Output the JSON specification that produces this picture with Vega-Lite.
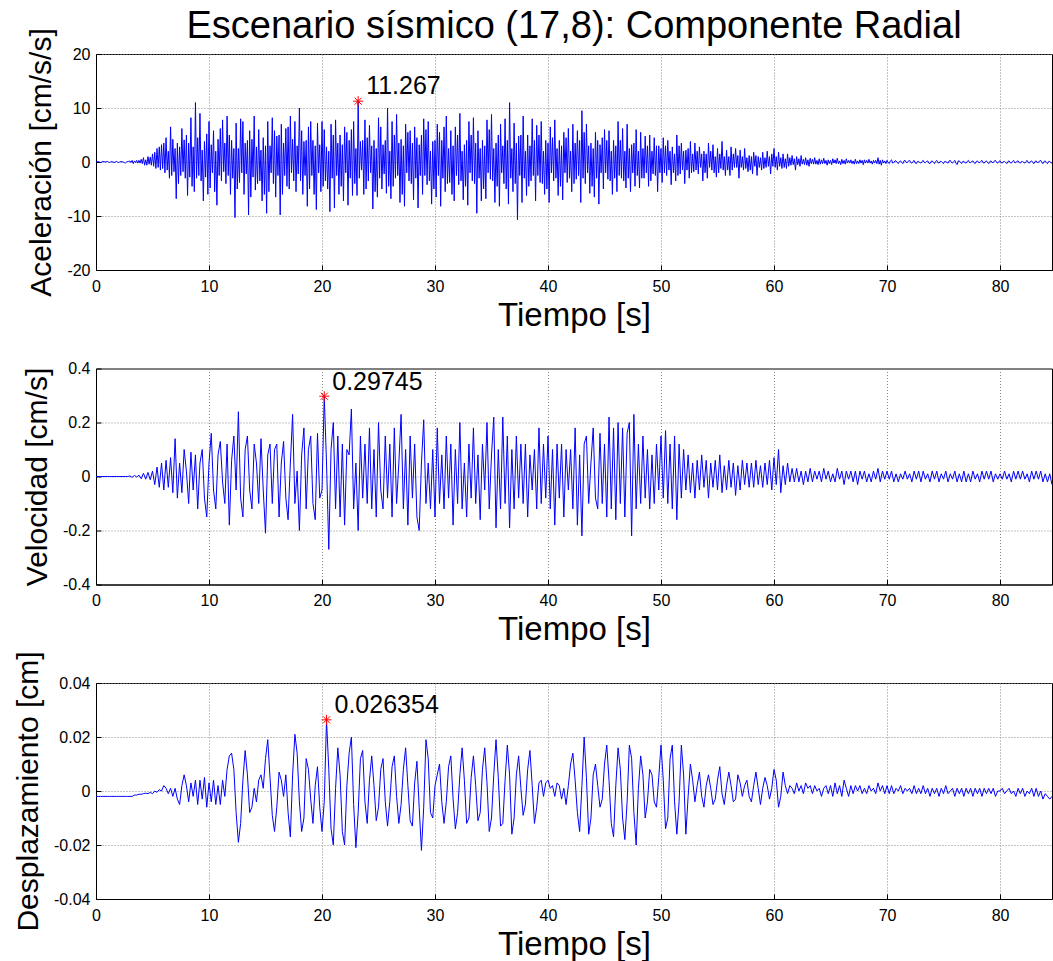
{
"$schema": "https://vega.github.io/schema/vega-lite/v6.json",
"background": "white",
"padding": {"left": 13, "top": 7, "right": 0, "bottom": 0},
"config": {
  "view": {"stroke": "#000", "strokeWidth": 1},
  "font": "Liberation Sans",
  "axis": {"labelFont": "Liberation Sans", "labelFontSize": 16, "labelColor": "#000", "titleFont": "Liberation Sans", "titleFontSize": 30, "titleFontWeight": "normal", "titleColor": "#000", "domainColor": "#000", "domainWidth": 1, "tickColor": "#000", "tickSize": -5, "labelPadding": 11, "gridColor": "#888", "gridDash": [1, 2], "gridOpacity": 1, "labelFlush": false, "labelOverlap": false, "format": "~g", "labelExpr": "replace(datum.label, '\u2212', '-')"},
  "axisX": {"titlePadding": 5, "labelPadding": 13, "titleFontSize": 33},
  "axisY": {"titlePadding": 10}
},
"datasets": {
"acc": [
{"t":0,"a":0},{"t":0.1,"a":0.05},{"t":0.2,"a":0.1},{"t":0.3,"a":0},{"t":0.4,"a":-0.1},{"t":0.5,"a":0},{"t":0.6,"a":0.1},{"t":0.7,"a":0.05},{"t":0.8,"a":0},{"t":0.9,"a":0.05},
{"t":1,"a":0.1},{"t":1.1,"a":0},{"t":1.2,"a":-0.1},{"t":1.3,"a":0},{"t":1.4,"a":0.1},{"t":1.5,"a":0},{"t":1.6,"a":-0.1},{"t":1.7,"a":0},{"t":1.8,"a":0.1},{"t":1.9,"a":0},
{"t":2,"a":-0.1},{"t":2.1,"a":0},{"t":2.2,"a":0.1},{"t":2.3,"a":0.05},{"t":2.4,"a":0},{"t":2.5,"a":-0.1},{"t":2.6,"a":-0.2},{"t":2.7,"a":0},{"t":2.8,"a":0.1},{"t":2.9,"a":0.1},
{"t":3,"a":0.2},{"t":3.1,"a":-0.1},{"t":3.2,"a":0.3},{"t":3.3,"a":-0.3},{"t":3.4,"a":0.2},{"t":3.5,"a":-0.1},{"t":3.6,"a":0.3},{"t":3.7,"a":-0.2},{"t":3.8,"a":0.3},{"t":3.9,"a":-0.2},
{"t":4,"a":0.5},{"t":4.1,"a":-0.3},{"t":4.2,"a":0.8},{"t":4.3,"a":-0.6},{"t":4.4,"a":0.4},{"t":4.5,"a":-0.6},{"t":4.6,"a":1.0},{"t":4.7,"a":-0.4},{"t":4.8,"a":0.9},{"t":4.9,"a":-0.6},
{"t":5,"a":1.5},{"t":5.1,"a":-0.8},{"t":5.2,"a":1.8},{"t":5.3,"a":-1.2},{"t":5.4,"a":2.5},{"t":5.5,"a":-1.0},{"t":5.6,"a":2.8},{"t":5.7,"a":-1.5},{"t":5.8,"a":3.2},{"t":5.9,"a":-1.2},
{"t":6,"a":3.5},{"t":6.1,"a":-2.0},{"t":6.2,"a":4.5},{"t":6.3,"a":-1.5},{"t":6.4,"a":2.0},{"t":6.5,"a":-3.0},{"t":6.6,"a":6.5},{"t":6.7,"a":-2.5},{"t":6.8,"a":4.2},{"t":6.9,"a":-1.8},
{"t":7,"a":2.5},{"t":7.1,"a":-6.8},{"t":7.2,"a":3.5},{"t":7.3,"a":-4.0},{"t":7.4,"a":2.8},{"t":7.5,"a":-2.5},{"t":7.6,"a":6.2},{"t":7.7,"a":-1.8},{"t":7.8,"a":4.1},{"t":7.9,"a":-3.0},
{"t":8,"a":5.0},{"t":8.1,"a":-6.2},{"t":8.2,"a":3.5},{"t":8.3,"a":-2.8},{"t":8.4,"a":8.2},{"t":8.5,"a":-4.5},{"t":8.6,"a":2.8},{"t":8.7,"a":-5.5},{"t":8.8,"a":11.0},{"t":8.9,"a":-3.0},
{"t":9,"a":4.5},{"t":9.1,"a":-2.5},{"t":9.2,"a":9.0},{"t":9.3,"a":-3.5},{"t":9.4,"a":2.2},{"t":9.5,"a":-7.2},{"t":9.6,"a":3.8},{"t":9.7,"a":-2.8},{"t":9.8,"a":5.2},{"t":9.9,"a":-6.0},
{"t":10,"a":7.5},{"t":10.1,"a":-4.8},{"t":10.2,"a":3.2},{"t":10.3,"a":-2.0},{"t":10.4,"a":5.8},{"t":10.5,"a":-5.5},{"t":10.6,"a":2.0},{"t":10.7,"a":-8.0},{"t":10.8,"a":4.2},{"t":10.9,"a":-2.5},
{"t":11,"a":6.2},{"t":11.1,"a":-3.5},{"t":11.2,"a":7.8},{"t":11.3,"a":-1.8},{"t":11.4,"a":3.5},{"t":11.5,"a":-4.0},{"t":11.6,"a":8.5},{"t":11.7,"a":-2.5},{"t":11.8,"a":5.0},{"t":11.9,"a":-6.0},
{"t":12,"a":4.0},{"t":12.1,"a":-3.0},{"t":12.2,"a":2.5},{"t":12.3,"a":-10.3},{"t":12.4,"a":7.2},{"t":12.5,"a":-5.0},{"t":12.6,"a":2.5},{"t":12.7,"a":-3.8},{"t":12.8,"a":8.0},{"t":12.9,"a":-2.0},
{"t":13,"a":7.5},{"t":13.1,"a":-6.0},{"t":13.2,"a":3.5},{"t":13.3,"a":-2.2},{"t":13.4,"a":4.0},{"t":13.5,"a":-9.8},{"t":13.6,"a":5.8},{"t":13.7,"a":-6.5},{"t":13.8,"a":4.2},{"t":13.9,"a":-2.8},
{"t":14,"a":8.5},{"t":14.1,"a":-5.2},{"t":14.2,"a":2.8},{"t":14.3,"a":-4.0},{"t":14.4,"a":6.0},{"t":14.5,"a":-3.5},{"t":14.6,"a":2.2},{"t":14.7,"a":-7.2},{"t":14.8,"a":4.5},{"t":14.9,"a":-6.0},
{"t":15,"a":3.0},{"t":15.1,"a":-9.5},{"t":15.2,"a":7.5},{"t":15.3,"a":-5.5},{"t":15.4,"a":3.0},{"t":15.5,"a":-2.0},{"t":15.6,"a":8.2},{"t":15.7,"a":-4.0},{"t":15.8,"a":5.8},{"t":15.9,"a":-6.5},
{"t":16,"a":4.8},{"t":16.1,"a":-2.5},{"t":16.2,"a":5.0},{"t":16.3,"a":-9.8},{"t":16.4,"a":7.0},{"t":16.5,"a":-6.0},{"t":16.6,"a":3.5},{"t":16.7,"a":-2.5},{"t":16.8,"a":6.2},{"t":16.9,"a":-4.5},
{"t":17,"a":6.5},{"t":17.1,"a":-5.0},{"t":17.2,"a":8.5},{"t":17.3,"a":-2.0},{"t":17.4,"a":4.2},{"t":17.5,"a":-3.5},{"t":17.6,"a":7.5},{"t":17.7,"a":-5.5},{"t":17.8,"a":3.0},{"t":17.9,"a":-2.2},
{"t":18,"a":10.0},{"t":18.1,"a":-3.5},{"t":18.2,"a":5.8},{"t":18.3,"a":-6.0},{"t":18.4,"a":3.8},{"t":18.5,"a":-2.5},{"t":18.6,"a":4.0},{"t":18.7,"a":-8.2},{"t":18.8,"a":6.5},{"t":18.9,"a":-5.0},
{"t":19,"a":7.5},{"t":19.1,"a":-2.5},{"t":19.2,"a":4.0},{"t":19.3,"a":-6.0},{"t":19.4,"a":3.0},{"t":19.5,"a":-8.8},{"t":19.6,"a":7.2},{"t":19.7,"a":-2.0},{"t":19.8,"a":3.2},{"t":19.9,"a":-5.5},
{"t":20,"a":7.5},{"t":20.1,"a":-4.5},{"t":20.2,"a":6.0},{"t":20.3,"a":-3.5},{"t":20.4,"a":2.8},{"t":20.5,"a":-5.0},{"t":20.6,"a":2.0},{"t":20.7,"a":-9.2},{"t":20.8,"a":7.0},{"t":20.9,"a":-3.0},
{"t":21,"a":5.0},{"t":21.1,"a":-8.5},{"t":21.2,"a":7.8},{"t":21.3,"a":-2.5},{"t":21.4,"a":3.5},{"t":21.5,"a":-6.0},{"t":21.6,"a":5.0},{"t":21.7,"a":-4.5},{"t":21.8,"a":3.2},{"t":21.9,"a":-7.2},
{"t":22,"a":6.5},{"t":22.1,"a":-2.0},{"t":22.2,"a":5.5},{"t":22.3,"a":-8.0},{"t":22.4,"a":4.0},{"t":22.5,"a":-3.0},{"t":22.6,"a":6.0},{"t":22.7,"a":-6.2},{"t":22.8,"a":7.5},{"t":22.9,"a":-4.0},
{"t":23,"a":2.5},{"t":23.1,"a":-6.2},{"t":23.2,"a":11.267},{"t":23.3,"a":-3.0},{"t":23.4,"a":3.8},{"t":23.5,"a":-1.5},{"t":23.6,"a":4.0},{"t":23.7,"a":-6.0},{"t":23.8,"a":7.8},{"t":23.9,"a":-5.0},
{"t":24,"a":4.5},{"t":24.1,"a":-3.5},{"t":24.2,"a":6.8},{"t":24.3,"a":-2.0},{"t":24.4,"a":3.0},{"t":24.5,"a":-8.7},{"t":24.6,"a":4.0},{"t":24.7,"a":-5.5},{"t":24.8,"a":2.5},{"t":24.9,"a":-6.5},
{"t":25,"a":8.2},{"t":25.1,"a":-3.0},{"t":25.2,"a":6.5},{"t":25.3,"a":-5.0},{"t":25.4,"a":3.2},{"t":25.5,"a":-2.2},{"t":25.6,"a":4.0},{"t":25.7,"a":-5.8},{"t":25.8,"a":10.0},{"t":25.9,"a":-4.5},
{"t":26,"a":2.0},{"t":26.1,"a":-6.8},{"t":26.2,"a":7.5},{"t":26.3,"a":-4.5},{"t":26.4,"a":5.0},{"t":26.5,"a":-3.0},{"t":26.6,"a":8.8},{"t":26.7,"a":-2.5},{"t":26.8,"a":3.5},{"t":26.9,"a":-7.5},
{"t":27,"a":4.2},{"t":27.1,"a":-6.0},{"t":27.2,"a":3.0},{"t":27.3,"a":-8.2},{"t":27.4,"a":7.0},{"t":27.5,"a":-2.0},{"t":27.6,"a":5.5},{"t":27.7,"a":-3.5},{"t":27.8,"a":5.8},{"t":27.9,"a":-4.0},
{"t":28,"a":3.5},{"t":28.1,"a":-7.0},{"t":28.2,"a":6.5},{"t":28.3,"a":-3.0},{"t":28.4,"a":4.5},{"t":28.5,"a":-8.5},{"t":28.6,"a":3.2},{"t":28.7,"a":-2.5},{"t":28.8,"a":5.0},{"t":28.9,"a":-6.0},
{"t":29,"a":8.0},{"t":29.1,"a":-2.5},{"t":29.2,"a":6.0},{"t":29.3,"a":-4.2},{"t":29.4,"a":7.5},{"t":29.5,"a":-3.5},{"t":29.6,"a":2.0},{"t":29.7,"a":-7.8},{"t":29.8,"a":3.8},{"t":29.9,"a":-5.0},
{"t":30,"a":4.0},{"t":30.1,"a":-6.5},{"t":30.2,"a":7.0},{"t":30.3,"a":-2.5},{"t":30.4,"a":5.5},{"t":30.5,"a":-8.2},{"t":30.6,"a":4.0},{"t":30.7,"a":-3.0},{"t":30.8,"a":6.5},{"t":30.9,"a":-5.5},
{"t":31,"a":8.5},{"t":31.1,"a":-4.0},{"t":31.2,"a":2.5},{"t":31.3,"a":-3.8},{"t":31.4,"a":5.8},{"t":31.5,"a":-6.0},{"t":31.6,"a":3.0},{"t":31.7,"a":-7.2},{"t":31.8,"a":6.5},{"t":31.9,"a":-2.5},
{"t":32,"a":5.0},{"t":32.1,"a":-4.2},{"t":32.2,"a":9.0},{"t":32.3,"a":-3.5},{"t":32.4,"a":2.0},{"t":32.5,"a":-7.0},{"t":32.6,"a":3.2},{"t":32.7,"a":-4.5},{"t":32.8,"a":4.0},{"t":32.9,"a":-8.0},
{"t":33,"a":7.5},{"t":33.1,"a":-2.0},{"t":33.2,"a":5.0},{"t":33.3,"a":-3.5},{"t":33.4,"a":8.2},{"t":33.5,"a":-4.0},{"t":33.6,"a":3.5},{"t":33.7,"a":-9.5},{"t":33.8,"a":5.8},{"t":33.9,"a":-3.0},
{"t":34,"a":2.5},{"t":34.1,"a":-7.2},{"t":34.2,"a":4.0},{"t":34.3,"a":-5.0},{"t":34.4,"a":3.0},{"t":34.5,"a":-6.8},{"t":34.6,"a":7.8},{"t":34.7,"a":-2.0},{"t":34.8,"a":6.0},{"t":34.9,"a":-3.2},
{"t":35,"a":8.8},{"t":35.1,"a":-3.5},{"t":35.2,"a":2.5},{"t":35.3,"a":-7.5},{"t":35.4,"a":3.5},{"t":35.5,"a":-4.5},{"t":35.6,"a":5.0},{"t":35.7,"a":-8.2},{"t":35.8,"a":7.0},{"t":35.9,"a":-2.0},
{"t":36,"a":3.0},{"t":36.1,"a":-4.0},{"t":36.2,"a":8.0},{"t":36.3,"a":-5.0},{"t":36.4,"a":4.0},{"t":36.5,"a":-7.8},{"t":36.6,"a":11.0},{"t":36.7,"a":-3.0},{"t":36.8,"a":2.5},{"t":36.9,"a":-5.5},
{"t":37,"a":7.2},{"t":37.1,"a":-4.0},{"t":37.2,"a":3.5},{"t":37.3,"a":-10.7},{"t":37.4,"a":4.8},{"t":37.5,"a":-2.5},{"t":37.6,"a":5.0},{"t":37.7,"a":-7.5},{"t":37.8,"a":8.5},{"t":37.9,"a":-3.0},
{"t":38,"a":2.0},{"t":38.1,"a":-6.2},{"t":38.2,"a":5.0},{"t":38.3,"a":-4.5},{"t":38.4,"a":3.0},{"t":38.5,"a":-3.5},{"t":38.6,"a":8.0},{"t":38.7,"a":-2.5},{"t":38.8,"a":4.0},{"t":38.9,"a":-7.2},
{"t":39,"a":6.8},{"t":39.1,"a":-2.5},{"t":39.2,"a":5.0},{"t":39.3,"a":-3.8},{"t":39.4,"a":7.5},{"t":39.5,"a":-4.0},{"t":39.6,"a":2.0},{"t":39.7,"a":-6.0},{"t":39.8,"a":4.0},{"t":39.9,"a":-5.0},
{"t":40,"a":3.5},{"t":40.1,"a":-7.5},{"t":40.2,"a":6.5},{"t":40.3,"a":-2.0},{"t":40.4,"a":4.5},{"t":40.5,"a":-3.5},{"t":40.6,"a":7.8},{"t":40.7,"a":-3.0},{"t":40.8,"a":2.5},{"t":40.9,"a":-6.2},
{"t":41,"a":4.0},{"t":41.1,"a":-4.5},{"t":41.2,"a":3.0},{"t":41.3,"a":-7.0},{"t":41.4,"a":5.5},{"t":41.5,"a":-2.0},{"t":41.6,"a":4.5},{"t":41.7,"a":-3.8},{"t":41.8,"a":6.2},{"t":41.9,"a":-3.0},
{"t":42,"a":2.0},{"t":42.1,"a":-5.5},{"t":42.2,"a":7.0},{"t":42.3,"a":-4.0},{"t":42.4,"a":3.5},{"t":42.5,"a":-3.2},{"t":42.6,"a":5.8},{"t":42.7,"a":-2.5},{"t":42.8,"a":4.0},{"t":42.9,"a":-7.5},
{"t":43,"a":9.5},{"t":43.1,"a":-3.0},{"t":43.2,"a":5.5},{"t":43.3,"a":-4.0},{"t":43.4,"a":7.0},{"t":43.5,"a":-2.0},{"t":43.6,"a":3.0},{"t":43.7,"a":-5.8},{"t":43.8,"a":3.5},{"t":43.9,"a":-4.5},
{"t":44,"a":2.5},{"t":44.1,"a":-6.5},{"t":44.2,"a":5.5},{"t":44.3,"a":-3.0},{"t":44.4,"a":4.0},{"t":44.5,"a":-7.8},{"t":44.6,"a":3.2},{"t":44.7,"a":-2.0},{"t":44.8,"a":4.5},{"t":44.9,"a":-5.0},
{"t":45,"a":6.0},{"t":45.1,"a":-2.0},{"t":45.2,"a":4.0},{"t":45.3,"a":-3.2},{"t":45.4,"a":5.8},{"t":45.5,"a":-3.5},{"t":45.6,"a":2.0},{"t":45.7,"a":-6.0},{"t":45.8,"a":4.0},{"t":45.9,"a":-3.0},
{"t":46,"a":3.0},{"t":46.1,"a":-5.5},{"t":46.2,"a":7.5},{"t":46.3,"a":-2.5},{"t":46.4,"a":4.0},{"t":46.5,"a":-3.0},{"t":46.6,"a":6.2},{"t":46.7,"a":-3.5},{"t":46.8,"a":2.0},{"t":46.9,"a":-4.8},
{"t":47,"a":7.0},{"t":47.1,"a":-3.0},{"t":47.2,"a":2.5},{"t":47.3,"a":-5.5},{"t":47.4,"a":3.2},{"t":47.5,"a":-2.0},{"t":47.6,"a":3.5},{"t":47.7,"a":-4.5},{"t":47.8,"a":6.0},{"t":47.9,"a":-2.5},
{"t":48,"a":2.0},{"t":48.1,"a":-4.8},{"t":48.2,"a":5.5},{"t":48.3,"a":-3.0},{"t":48.4,"a":2.5},{"t":48.5,"a":-3.0},{"t":48.6,"a":4.8},{"t":48.7,"a":-2.0},{"t":48.8,"a":3.0},{"t":48.9,"a":-4.5},
{"t":49,"a":5.0},{"t":49.1,"a":-3.5},{"t":49.2,"a":2.0},{"t":49.3,"a":-2.2},{"t":49.4,"a":4.5},{"t":49.5,"a":-2.5},{"t":49.6,"a":3.0},{"t":49.7,"a":-5.5},{"t":49.8,"a":3.0},{"t":49.9,"a":-2.0},
{"t":50,"a":2.5},{"t":50.1,"a":-3.8},{"t":50.2,"a":4.5},{"t":50.3,"a":-2.0},{"t":50.4,"a":3.0},{"t":50.5,"a":-2.5},{"t":50.6,"a":4.0},{"t":50.7,"a":-1.5},{"t":50.8,"a":2.0},{"t":50.9,"a":-4.2},
{"t":51,"a":2.8},{"t":51.1,"a":-2.0},{"t":51.2,"a":1.5},{"t":51.3,"a":-3.5},{"t":51.4,"a":5.0},{"t":51.5,"a":-2.5},{"t":51.6,"a":3.0},{"t":51.7,"a":-2.2},{"t":51.8,"a":3.5},{"t":51.9,"a":-1.5},
{"t":52,"a":2.0},{"t":52.1,"a":-4.0},{"t":52.2,"a":2.2},{"t":52.3,"a":-1.5},{"t":52.4,"a":2.5},{"t":52.5,"a":-3.0},{"t":52.6,"a":3.8},{"t":52.7,"a":-2.0},{"t":52.8,"a":1.5},{"t":52.9,"a":-1.8},
{"t":53,"a":3.5},{"t":53.1,"a":-1.5},{"t":53.2,"a":2.0},{"t":53.3,"a":-2.2},{"t":53.4,"a":2.8},{"t":53.5,"a":-1.0},{"t":53.6,"a":1.5},{"t":53.7,"a":-3.5},{"t":53.8,"a":2.0},{"t":53.9,"a":-2.0},
{"t":54,"a":1.5},{"t":54.1,"a":-3.0},{"t":54.2,"a":3.5},{"t":54.3,"a":-1.0},{"t":54.4,"a":2.0},{"t":54.5,"a":-1.5},{"t":54.6,"a":3.2},{"t":54.7,"a":-2.0},{"t":54.8,"a":1.0},{"t":54.9,"a":-2.8},
{"t":55,"a":2.5},{"t":55.1,"a":-2.0},{"t":55.2,"a":1.5},{"t":55.3,"a":-1.2},{"t":55.4,"a":3.8},{"t":55.5,"a":-1.5},{"t":55.6,"a":1.0},{"t":55.7,"a":-2.5},{"t":55.8,"a":2.2},{"t":55.9,"a":-1.5},
{"t":56,"a":1.0},{"t":56.1,"a":-2.5},{"t":56.2,"a":2.8},{"t":56.3,"a":-1.5},{"t":56.4,"a":1.5},{"t":56.5,"a":-1.0},{"t":56.6,"a":2.5},{"t":56.7,"a":-1.0},{"t":56.8,"a":1.2},{"t":56.9,"a":-3.0},
{"t":57,"a":2.2},{"t":57.1,"a":-1.0},{"t":57.2,"a":1.0},{"t":57.3,"a":-1.5},{"t":57.4,"a":2.5},{"t":57.5,"a":-1.2},{"t":57.6,"a":0.8},{"t":57.7,"a":-1.8},{"t":57.8,"a":1.2},{"t":57.9,"a":-1.5},
{"t":58,"a":1.0},{"t":58.1,"a":-2.2},{"t":58.2,"a":1.8},{"t":58.3,"a":-0.8},{"t":58.4,"a":1.2},{"t":58.5,"a":-2.5},{"t":58.6,"a":1.0},{"t":58.7,"a":-1.0},{"t":58.8,"a":0.8},{"t":58.9,"a":-1.5},
{"t":59,"a":1.8},{"t":59.1,"a":-1.2},{"t":59.2,"a":0.8},{"t":59.3,"a":-1.0},{"t":59.4,"a":2.0},{"t":59.5,"a":-0.8},{"t":59.6,"a":1.0},{"t":59.7,"a":-2.2},{"t":59.8,"a":1.5},{"t":59.9,"a":-0.8},
{"t":60,"a":2.5},{"t":60.1,"a":-1.0},{"t":60.2,"a":1.0},{"t":60.3,"a":-1.5},{"t":60.4,"a":1.8},{"t":60.5,"a":-0.8},{"t":60.6,"a":0.8},{"t":60.7,"a":-1.2},{"t":60.8,"a":1.5},{"t":60.9,"a":-1.0},
{"t":61,"a":0.6},{"t":61.1,"a":-1.2},{"t":61.2,"a":1.5},{"t":61.3,"a":-0.8},{"t":61.4,"a":0.8},{"t":61.5,"a":-0.6},{"t":61.6,"a":1.2},{"t":61.7,"a":-0.5},{"t":61.8,"a":0.6},{"t":61.9,"a":-1.5},
{"t":62,"a":1.0},{"t":62.1,"a":-0.5},{"t":62.2,"a":0.6},{"t":62.3,"a":-0.8},{"t":62.4,"a":1.2},{"t":62.5,"a":-0.4},{"t":62.6,"a":0.5},{"t":62.7,"a":-0.5},{"t":62.8,"a":0.8},{"t":62.9,"a":-0.6},
{"t":63,"a":0.4},{"t":63.1,"a":-0.8},{"t":63.2,"a":0.7},{"t":63.3,"a":-0.3},{"t":63.4,"a":0.5},{"t":63.5,"a":-0.4},{"t":63.6,"a":0.8},{"t":63.7,"a":-0.4},{"t":63.8,"a":0.3},{"t":63.9,"a":-0.5},
{"t":64,"a":0.6},{"t":64.1,"a":-0.4},{"t":64.2,"a":0.4},{"t":64.3,"a":-0.3},{"t":64.4,"a":0.7},{"t":64.5,"a":-0.3},{"t":64.6,"a":0.3},{"t":64.7,"a":-0.6},{"t":64.8,"a":0.4},{"t":64.9,"a":-0.3},
{"t":65,"a":0.3},{"t":65.1,"a":-0.5},{"t":65.2,"a":0.6},{"t":65.3,"a":-0.2},{"t":65.4,"a":0.4},{"t":65.5,"a":-0.3},{"t":65.6,"a":0.7},{"t":65.7,"a":-0.3},{"t":65.8,"a":0.2},{"t":65.9,"a":-0.5},
{"t":66,"a":0.5},{"t":66.1,"a":-0.3},{"t":66.2,"a":0.3},{"t":66.3,"a":-0.4},{"t":66.4,"a":0.6},{"t":66.5,"a":-0.2},{"t":66.6,"a":0.3},{"t":66.7,"a":-0.2},{"t":66.8,"a":0.4},{"t":66.9,"a":-0.3},
{"t":67,"a":0.2},{"t":67.1,"a":-0.4},{"t":67.2,"a":0.5},{"t":67.3,"a":-0.3},{"t":67.4,"a":0.2},{"t":67.5,"a":-0.3},{"t":67.6,"a":0.4},{"t":67.7,"a":-0.2},{"t":67.8,"a":0.3},{"t":67.9,"a":-0.5},
{"t":68,"a":0.4},{"t":68.1,"a":-0.2},{"t":68.2,"a":0.3},{"t":68.3,"a":-0.2},{"t":68.4,"a":0.5},{"t":68.5,"a":-0.2},{"t":68.6,"a":0.2},{"t":68.7,"a":-0.4},{"t":68.8,"a":0.3},{"t":68.9,"a":-0.2},
{"t":69,"a":0.3},{"t":69.1,"a":-0.3},{"t":69.2,"a":0.8},{"t":69.3,"a":-0.4},{"t":69.4,"a":0.3},{"t":69.5,"a":-0.6},{"t":69.6,"a":0.4},{"t":69.7,"a":-0.2},{"t":69.8,"a":0.2},{"t":69.9,"a":-0.3},
{"t":70,"a":0.3},{"t":70.1,"a":-0.1},{"t":70.2,"a":-0.3},{"t":70.3,"a":0.2},{"t":70.4,"a":0.4},{"t":70.5,"a":-0.2},{"t":70.6,"a":-0.1},{"t":70.7,"a":0.2},{"t":70.8,"a":0.2},{"t":70.9,"a":-0.1},
{"t":71,"a":-0.3},{"t":71.1,"a":0.1},{"t":71.2,"a":0.2},{"t":71.3,"a":-0.1},{"t":71.4,"a":-0.3},{"t":71.5,"a":0.2},{"t":71.6,"a":0.3},{"t":71.7,"a":-0.1},{"t":71.8,"a":-0.1},{"t":71.9,"a":0.2},
{"t":72,"a":0.3},{"t":72.1,"a":-0.1},{"t":72.2,"a":-0.2},{"t":72.3,"a":0.1},{"t":72.4,"a":0.3},{"t":72.5,"a":-0.2},{"t":72.6,"a":-0.3},{"t":72.7,"a":0.1},{"t":72.8,"a":0.1},{"t":72.9,"a":-0.1},
{"t":73,"a":-0.2},{"t":73.1,"a":0.1},{"t":73.2,"a":0.3},{"t":73.3,"a":-0.1},{"t":73.4,"a":-0.1},{"t":73.5,"a":0.1},{"t":73.6,"a":0.2},{"t":73.7,"a":-0.2},{"t":73.8,"a":-0.3},{"t":73.9,"a":0.1},
{"t":74,"a":0.2},{"t":74.1,"a":-0.1},{"t":74.2,"a":-0.3},{"t":74.3,"a":0.1},{"t":74.4,"a":0.3},{"t":74.5,"a":-0.1},{"t":74.6,"a":-0.2},{"t":74.7,"a":0.1},{"t":74.8,"a":0.1},{"t":74.9,"a":-0.1},
{"t":75,"a":-0.3},{"t":75.1,"a":0.1},{"t":75.2,"a":0.1},{"t":75.3,"a":-0.1},{"t":75.4,"a":-0.2},{"t":75.5,"a":0.2},{"t":75.6,"a":0.3},{"t":75.7,"a":-0.1},{"t":75.8,"a":-0.2},{"t":75.9,"a":0.1},
{"t":76,"a":0.3},{"t":76.1,"a":-0.2},{"t":76.2,"a":-0.5},{"t":76.3,"a":0.2},{"t":76.4,"a":0.2},{"t":76.5,"a":-0.1},{"t":76.6,"a":-0.3},{"t":76.7,"a":0.1},{"t":76.8,"a":0.1},{"t":76.9,"a":-0.1},
{"t":77,"a":-0.2},{"t":77.1,"a":0.1},{"t":77.2,"a":0.3},{"t":77.3,"a":-0.1},{"t":77.4,"a":-0.1},{"t":77.5,"a":0.1},{"t":77.6,"a":0.2},{"t":77.7,"a":-0.1},{"t":77.8,"a":-0.3},{"t":77.9,"a":0.1},
{"t":78,"a":0.2},{"t":78.1,"a":-0.1},{"t":78.2,"a":-0.1},{"t":78.3,"a":0.1},{"t":78.4,"a":0.3},{"t":78.5,"a":-0.1},{"t":78.6,"a":-0.2},{"t":78.7,"a":0.1},{"t":78.8,"a":0.2},{"t":78.9,"a":-0.1},
{"t":79,"a":-0.3},{"t":79.1,"a":0.1},{"t":79.2,"a":0.2},{"t":79.3,"a":-0.1},{"t":79.4,"a":-0.1},{"t":79.5,"a":0.2},{"t":79.6,"a":0.3},{"t":79.7,"a":-0.1},{"t":79.8,"a":-0.2},{"t":79.9,"a":0.1},
{"t":80,"a":0.2},{"t":80.1,"a":-0.1},{"t":80.2,"a":-0.2},{"t":80.3,"a":0.1},{"t":80.4,"a":0.1},{"t":80.5,"a":-0.1},{"t":80.6,"a":-0.3},{"t":80.7,"a":0.1},{"t":80.8,"a":0.2},{"t":80.9,"a":-0.1},
{"t":81,"a":-0.2},{"t":81.1,"a":0.1},{"t":81.2,"a":0.3},{"t":81.3,"a":-0.1},{"t":81.4,"a":-0.1},{"t":81.5,"a":0.1},{"t":81.6,"a":0.2},{"t":81.7,"a":-0.1},{"t":81.8,"a":-0.2},{"t":81.9,"a":0.1},
{"t":82,"a":0.1},{"t":82.1,"a":-0.1},{"t":82.2,"a":-0.2},{"t":82.3,"a":0.1},{"t":82.4,"a":0.3},{"t":82.5,"a":-0.1},{"t":82.6,"a":-0.2},{"t":82.7,"a":0.1},{"t":82.8,"a":0.2},{"t":82.9,"a":-0.1},
{"t":83,"a":-0.3},{"t":83.1,"a":0.1},{"t":83.2,"a":0.2},{"t":83.3,"a":-0.1},{"t":83.4,"a":-0.1},{"t":83.5,"a":0.2},{"t":83.6,"a":0.3},{"t":83.7,"a":-0.1},{"t":83.8,"a":-0.3},{"t":83.9,"a":0.1},
{"t":84,"a":0.2},{"t":84.1,"a":-0.1},{"t":84.2,"a":-0.3},{"t":84.3,"a":0.1},{"t":84.4,"a":0.1},{"t":84.5,"a":-0.1},{"t":84.6,"a":-0.2}
],
"s": [
{"t":0,"v":0,"d":-0.002},{"t":0.2,"v":0,"d":-0.002},{"t":0.4,"v":0,"d":-0.002},{"t":0.6,"v":0,"d":-0.002},{"t":0.8,"v":0,"d":-0.002},
{"t":1,"v":0,"d":-0.002},{"t":1.2,"v":0,"d":-0.002},{"t":1.4,"v":0,"d":-0.002},{"t":1.6,"v":0,"d":-0.002},{"t":1.8,"v":0,"d":-0.002},
{"t":2,"v":0,"d":-0.002},{"t":2.2,"v":0,"d":-0.002},{"t":2.4,"v":0,"d":-0.002},{"t":2.6,"v":0,"d":-0.002},{"t":2.8,"v":0,"d":-0.002},
{"t":3,"v":0.002,"d":-0.002},{"t":3.2,"v":-0.003,"d":-0.002},{"t":3.4,"v":0.004,"d":-0.0015},{"t":3.6,"v":-0.002,"d":-0.0015},{"t":3.8,"v":0.005,"d":-0.0012},
{"t":4,"v":-0.008,"d":-0.0012},{"t":4.2,"v":0.012,"d":-0.001},{"t":4.4,"v":-0.01,"d":-0.0008},{"t":4.6,"v":0.015,"d":-0.001},{"t":4.8,"v":-0.012,"d":-0.0005},
{"t":5,"v":0.02,"d":-0.001},{"t":5.2,"v":-0.03,"d":0},{"t":5.4,"v":0.035,"d":-0.0005},{"t":5.6,"v":-0.04,"d":0.0005},{"t":5.8,"v":0.05,"d":0},
{"t":6,"v":-0.05,"d":0.002},{"t":6.2,"v":0.06,"d":0.001},{"t":6.4,"v":-0.04,"d":-0.001},{"t":6.6,"v":0.07,"d":0.001},{"t":6.8,"v":-0.06,"d":-0.002},
{"t":7,"v":0.14,"d":0.001},{"t":7.2,"v":-0.08,"d":-0.003},{"t":7.4,"v":0.05,"d":-0.005},{"t":7.6,"v":-0.06,"d":0.002},{"t":7.8,"v":0.1,"d":0.006},
{"t":8,"v":0.02,"d":0.002},{"t":8.2,"v":-0.1,"d":-0.004},{"t":8.4,"v":0.09,"d":0.003},{"t":8.6,"v":-0.05,"d":-0.002},{"t":8.8,"v":0.08,"d":0.004},
{"t":9,"v":-0.12,"d":-0.005},{"t":9.2,"v":0.05,"d":0.004},{"t":9.4,"v":0.1,"d":-0.003},{"t":9.6,"v":-0.08,"d":0.005},{"t":9.8,"v":-0.15,"d":-0.006},
{"t":10,"v":0.05,"d":0.003},{"t":10.2,"v":0.16,"d":-0.004},{"t":10.4,"v":-0.05,"d":0.004},{"t":10.6,"v":-0.12,"d":-0.005},{"t":10.8,"v":0.08,"d":0.002},
{"t":11,"v":0.13,"d":-0.005},{"t":11.2,"v":-0.02,"d":0.004},{"t":11.4,"v":-0.1,"d":-0.002},{"t":11.6,"v":0.12,"d":0.008},{"t":11.8,"v":-0.18,"d":0.013},
{"t":12,"v":0.06,"d":0.014},{"t":12.2,"v":0.15,"d":0.008},{"t":12.4,"v":-0.05,"d":-0.008},{"t":12.6,"v":0.24,"d":-0.019},{"t":12.8,"v":-0.08,"d":-0.012},
{"t":13,"v":-0.15,"d":0.004},{"t":13.2,"v":0.1,"d":0.015},{"t":13.4,"v":0.15,"d":0.006},{"t":13.6,"v":-0.05,"d":-0.008},{"t":13.8,"v":-0.12,"d":-0.006},
{"t":14,"v":0.12,"d":0.001},{"t":14.2,"v":0.05,"d":-0.004},{"t":14.4,"v":-0.1,"d":0.004},{"t":14.6,"v":0.14,"d":0.006},{"t":14.8,"v":-0.05,"d":0.001},
{"t":15,"v":-0.21,"d":0.012},{"t":15.2,"v":0.08,"d":0.019},{"t":15.4,"v":0.12,"d":0.005},{"t":15.6,"v":-0.1,"d":-0.009},{"t":15.8,"v":0.1,"d":-0.015},
{"t":16,"v":0.12,"d":-0.006},{"t":16.2,"v":-0.15,"d":0.007},{"t":16.4,"v":0.05,"d":0.004},{"t":16.6,"v":0.13,"d":-0.002},{"t":16.8,"v":-0.08,"d":0.006},
{"t":17,"v":-0.16,"d":-0.008},{"t":17.2,"v":0.05,"d":-0.017},{"t":17.4,"v":0.23,"d":0.006},{"t":17.6,"v":-0.1,"d":0.021},{"t":17.8,"v":0.02,"d":0.014},
{"t":18,"v":-0.2,"d":-0.004},{"t":18.2,"v":0.08,"d":-0.015},{"t":18.4,"v":0.18,"d":-0.01},{"t":18.6,"v":-0.12,"d":0.012},{"t":18.8,"v":0.1,"d":0.008},
{"t":19,"v":0.15,"d":-0.003},{"t":19.2,"v":-0.1,"d":-0.012},{"t":19.4,"v":-0.16,"d":0.002},{"t":19.6,"v":0.16,"d":0.009},{"t":19.8,"v":-0.08,"d":-0.006},
{"t":20,"v":-0.05,"d":-0.015},{"t":20.2,"v":0.29745,"d":-0.004},{"t":20.4,"v":0.05,"d":0.026354},{"t":20.6,"v":-0.27,"d":0.008},{"t":20.8,"v":0.1,"d":-0.014},
{"t":21,"v":0.2,"d":-0.02},{"t":21.2,"v":-0.12,"d":0.001},{"t":21.4,"v":0.15,"d":0.016},{"t":21.6,"v":-0.15,"d":0.006},{"t":21.8,"v":0.12,"d":-0.015},
{"t":22,"v":-0.18,"d":-0.02},{"t":22.2,"v":0.1,"d":0.002},{"t":22.4,"v":0.08,"d":0.014},{"t":22.6,"v":0.25,"d":0.02},{"t":22.8,"v":-0.12,"d":-0.005},
{"t":23,"v":0.05,"d":-0.021},{"t":23.2,"v":-0.2,"d":-0.008},{"t":23.4,"v":0.15,"d":0.012},{"t":23.6,"v":-0.08,"d":0.015},{"t":23.8,"v":0.12,"d":-0.004},
{"t":24,"v":-0.1,"d":-0.012},{"t":24.2,"v":0.18,"d":0.004},{"t":24.4,"v":-0.12,"d":0.013},{"t":24.6,"v":0.1,"d":0.002},{"t":24.8,"v":-0.15,"d":-0.011},
{"t":25,"v":0.2,"d":-0.006},{"t":25.2,"v":-0.05,"d":0.008},{"t":25.4,"v":-0.12,"d":0.012},{"t":25.6,"v":0.15,"d":-0.004},{"t":25.8,"v":-0.08,"d":-0.013},
{"t":26,"v":0.12,"d":-0.004},{"t":26.2,"v":-0.15,"d":0.009},{"t":26.4,"v":0.18,"d":0.013},{"t":26.6,"v":-0.1,"d":-0.002},{"t":26.8,"v":0.05,"d":-0.012},
{"t":27,"v":0.23,"d":-0.005},{"t":27.2,"v":-0.12,"d":0.008},{"t":27.4,"v":0.1,"d":0.016},{"t":27.6,"v":-0.18,"d":0.002},{"t":27.8,"v":0.15,"d":-0.011},
{"t":28,"v":-0.08,"d":-0.013},{"t":28.2,"v":0.12,"d":0.003},{"t":28.4,"v":-0.15,"d":0.011},{"t":28.6,"v":-0.2,"d":-0.006},{"t":28.8,"v":0.05,"d":-0.022},
{"t":29,"v":0.21,"d":-0.006},{"t":29.2,"v":-0.1,"d":0.019},{"t":29.4,"v":0.05,"d":0.012},{"t":29.6,"v":-0.12,"d":-0.008},{"t":29.8,"v":0.1,"d":-0.01},
{"t":30,"v":-0.15,"d":0.002},{"t":30.2,"v":0.18,"d":0.006},{"t":30.4,"v":-0.1,"d":0.01},{"t":30.6,"v":0.08,"d":-0.004},{"t":30.8,"v":-0.12,"d":-0.012},
{"t":31,"v":0.15,"d":-0.004},{"t":31.2,"v":-0.08,"d":0.009},{"t":31.4,"v":0.12,"d":0.013},{"t":31.6,"v":-0.18,"d":-0.003},{"t":31.8,"v":0.1,"d":-0.014},
{"t":32,"v":-0.1,"d":-0.008},{"t":32.2,"v":0.2,"d":0.006},{"t":32.4,"v":-0.12,"d":0.016},{"t":32.6,"v":0.05,"d":0.004},{"t":32.8,"v":-0.15,"d":-0.012},
{"t":33,"v":0.12,"d":-0.01},{"t":33.2,"v":-0.08,"d":0.005},{"t":33.4,"v":0.18,"d":0.013},{"t":33.6,"v":-0.1,"d":0.002},{"t":33.8,"v":0.08,"d":-0.011},
{"t":34,"v":-0.16,"d":-0.008},{"t":34.2,"v":0.12,"d":0.008},{"t":34.4,"v":-0.05,"d":0.016},{"t":34.6,"v":0.2,"d":0.003},{"t":34.8,"v":-0.12,"d":-0.015},
{"t":35,"v":0.08,"d":-0.01},{"t":35.2,"v":0.22,"d":0.006},{"t":35.4,"v":-0.19,"d":0.019},{"t":35.6,"v":0.1,"d":0.005},{"t":35.8,"v":-0.12,"d":-0.013},
{"t":36,"v":0.22,"d":-0.012},{"t":36.2,"v":-0.1,"d":0.004},{"t":36.4,"v":0.15,"d":0.017},{"t":36.6,"v":-0.19,"d":0.006},{"t":36.8,"v":0.1,"d":-0.016},
{"t":37,"v":-0.12,"d":-0.01},{"t":37.2,"v":0.15,"d":0.006},{"t":37.4,"v":-0.08,"d":0.013},{"t":37.6,"v":0.12,"d":0.001},{"t":37.8,"v":-0.1,"d":-0.009},
{"t":38,"v":0.12,"d":-0.005},{"t":38.2,"v":-0.15,"d":0.008},{"t":38.4,"v":0.08,"d":0.015},{"t":38.6,"v":-0.05,"d":0.002},{"t":38.8,"v":0.1,"d":-0.012},
{"t":39,"v":-0.12,"d":-0.006},{"t":39.2,"v":0.18,"d":0.003},{"t":39.4,"v":-0.1,"d":0.004},{"t":39.6,"v":0.12,"d":-0.002},{"t":39.8,"v":-0.08,"d":0.003},
{"t":40,"v":0.15,"d":0.004},{"t":40.2,"v":-0.12,"d":0.001},{"t":40.4,"v":0.1,"d":0.002},{"t":40.6,"v":-0.18,"d":-0.002},{"t":40.8,"v":0.12,"d":0.003},
{"t":41,"v":-0.08,"d":0.002},{"t":41.2,"v":0.12,"d":-0.003},{"t":41.4,"v":-0.15,"d":0.001},{"t":41.6,"v":0.1,"d":-0.005},{"t":41.8,"v":-0.05,"d":0.002},
{"t":42,"v":0.1,"d":0.01},{"t":42.2,"v":-0.12,"d":0.014},{"t":42.4,"v":0.18,"d":0.004},{"t":42.6,"v":-0.18,"d":-0.008},{"t":42.8,"v":0.08,"d":-0.015},
{"t":43,"v":-0.22,"d":0.002},{"t":43.2,"v":0.12,"d":0.02},{"t":43.4,"v":0.15,"d":0.005},{"t":43.6,"v":-0.1,"d":-0.016},{"t":43.8,"v":0.05,"d":-0.01},
{"t":44,"v":0.18,"d":0.006},{"t":44.2,"v":-0.08,"d":0.01},{"t":44.4,"v":-0.12,"d":0.002},{"t":44.6,"v":0.16,"d":-0.006},{"t":44.8,"v":-0.1,"d":-0.003},
{"t":45,"v":0.12,"d":0.01},{"t":45.2,"v":-0.15,"d":0.017},{"t":45.4,"v":0.22,"d":0.004},{"t":45.6,"v":-0.12,"d":-0.012},{"t":45.8,"v":0.18,"d":-0.017},
{"t":46,"v":-0.16,"d":0.002},{"t":46.2,"v":0.2,"d":0.016},{"t":46.4,"v":-0.1,"d":0.008},{"t":46.6,"v":0.18,"d":-0.01},{"t":46.8,"v":-0.15,"d":-0.018},
{"t":47,"v":0.16,"d":-0.004},{"t":47.2,"v":0.2,"d":0.017},{"t":47.4,"v":-0.22,"d":0.012},{"t":47.6,"v":0.23,"d":-0.008},{"t":47.8,"v":-0.12,"d":-0.02},
{"t":48,"v":0.12,"d":0.001},{"t":48.2,"v":-0.1,"d":0.013},{"t":48.4,"v":0.15,"d":0.006},{"t":48.6,"v":-0.08,"d":-0.01},{"t":48.8,"v":0.1,"d":-0.004},
{"t":49,"v":-0.12,"d":0.008},{"t":49.2,"v":0.08,"d":0.006},{"t":49.4,"v":-0.1,"d":-0.004},{"t":49.6,"v":0.12,"d":-0.006},{"t":49.8,"v":-0.05,"d":0.005},
{"t":50,"v":0.15,"d":0.017},{"t":50.2,"v":-0.08,"d":0.004},{"t":50.4,"v":0.17,"d":-0.014},{"t":50.6,"v":-0.1,"d":-0.01},{"t":50.8,"v":0.12,"d":0.012},
{"t":51,"v":-0.12,"d":0.017},{"t":51.2,"v":0.15,"d":-0.004},{"t":51.4,"v":-0.16,"d":-0.016},{"t":51.6,"v":0.12,"d":-0.004},{"t":51.8,"v":-0.08,"d":0.017},
{"t":52,"v":0.1,"d":0.006},{"t":52.2,"v":-0.05,"d":-0.016},{"t":52.4,"v":0.08,"d":-0.002},{"t":52.6,"v":-0.06,"d":0.01},{"t":52.8,"v":0.05,"d":0.004},
{"t":53,"v":-0.08,"d":-0.004},{"t":53.2,"v":0.06,"d":0.002},{"t":53.4,"v":-0.05,"d":0.007},{"t":53.6,"v":0.08,"d":-0.002},{"t":53.8,"v":-0.04,"d":-0.006},
{"t":54,"v":0.06,"d":0.002},{"t":54.2,"v":-0.08,"d":0.006},{"t":54.4,"v":0.05,"d":0.001},{"t":54.6,"v":-0.04,"d":-0.005},{"t":54.8,"v":0.06,"d":-0.003},
{"t":55,"v":-0.05,"d":0.004},{"t":55.2,"v":0.08,"d":0.009},{"t":55.4,"v":-0.06,"d":-0.001},{"t":55.6,"v":0.04,"d":-0.005},{"t":55.8,"v":-0.05,"d":0.002},
{"t":56,"v":0.06,"d":0.007},{"t":56.2,"v":-0.04,"d":0.002},{"t":56.4,"v":0.05,"d":-0.004},{"t":56.6,"v":-0.07,"d":-0.003},{"t":56.8,"v":0.04,"d":0.006},
{"t":57,"v":-0.05,"d":0.003},{"t":57.2,"v":0.06,"d":-0.002},{"t":57.4,"v":-0.03,"d":0.002},{"t":57.6,"v":0.05,"d":0.004},{"t":57.8,"v":-0.04,"d":-0.002},
{"t":58,"v":0.05,"d":-0.004},{"t":58.2,"v":-0.04,"d":0.002},{"t":58.4,"v":0.06,"d":0.007},{"t":58.6,"v":-0.03,"d":0.001},{"t":58.8,"v":0.04,"d":-0.005},
{"t":59,"v":-0.04,"d":0.001},{"t":59.2,"v":0.05,"d":0.005},{"t":59.4,"v":-0.03,"d":0.002},{"t":59.6,"v":0.06,"d":-0.003},{"t":59.8,"v":-0.05,"d":0.001},
{"t":60,"v":0.07,"d":0.008},{"t":60.2,"v":-0.03,"d":0.004},{"t":60.4,"v":0.1,"d":-0.006},{"t":60.6,"v":-0.06,"d":-0.002},{"t":60.8,"v":0.04,"d":0.007},
{"t":61,"v":-0.03,"d":0.002},{"t":61.2,"v":0.05,"d":-0.001},{"t":61.4,"v":-0.02,"d":0.002},{"t":61.6,"v":0.03,"d":0.001},{"t":61.8,"v":-0.02,"d":-0.001},
{"t":62,"v":0.03,"d":0.003},{"t":62.2,"v":-0.02,"d":0},{"t":62.4,"v":0.02,"d":0.002},{"t":62.6,"v":-0.03,"d":-0.001},{"t":62.8,"v":0.02,"d":0.003},
{"t":63,"v":-0.02,"d":0.001},{"t":63.2,"v":0.03,"d":0.002},{"t":63.4,"v":-0.02,"d":-0.001},{"t":63.6,"v":0.02,"d":0.002},{"t":63.8,"v":-0.01,"d":0},
{"t":64,"v":0.02,"d":0.001},{"t":64.2,"v":-0.02,"d":-0.002},{"t":64.4,"v":0.03,"d":0.001},{"t":64.6,"v":-0.01,"d":0.002},{"t":64.8,"v":0.02,"d":-0.001},
{"t":65,"v":-0.02,"d":0.002},{"t":65.2,"v":0.01,"d":-0.002},{"t":65.4,"v":-0.02,"d":0.003},{"t":65.6,"v":0.03,"d":-0.001},{"t":65.8,"v":-0.01,"d":0.002},
{"t":66,"v":0.02,"d":-0.002},{"t":66.2,"v":-0.03,"d":0.004},{"t":66.4,"v":0.02,"d":0.001},{"t":66.6,"v":-0.01,"d":-0.002},{"t":66.8,"v":0.02,"d":0.002},
{"t":67,"v":-0.02,"d":-0.001},{"t":67.2,"v":0.02,"d":0.002},{"t":67.4,"v":-0.03,"d":0},{"t":67.6,"v":0.02,"d":0.002},{"t":67.8,"v":-0.01,"d":-0.001},
{"t":68,"v":0.02,"d":0.001},{"t":68.2,"v":-0.02,"d":-0.001},{"t":68.4,"v":0.01,"d":0.002},{"t":68.6,"v":-0.02,"d":0},{"t":68.8,"v":0.02,"d":0.001},
{"t":69,"v":-0.01,"d":-0.001},{"t":69.2,"v":0.03,"d":0.003},{"t":69.4,"v":-0.02,"d":0},{"t":69.6,"v":0.02,"d":0.002},{"t":69.8,"v":-0.01,"d":-0.001},
{"t":70,"v":0.02,"d":0.002},{"t":70.2,"v":-0.01,"d":-0.001},{"t":70.4,"v":0.02,"d":0.002},{"t":70.6,"v":-0.02,"d":-0.001},{"t":70.8,"v":0.01,"d":0.001},
{"t":71,"v":-0.02,"d":0},{"t":71.2,"v":0.01,"d":0.002},{"t":71.4,"v":-0.01,"d":-0.001},{"t":71.6,"v":0.02,"d":0.001},{"t":71.8,"v":-0.01,"d":0},
{"t":72,"v":0.01,"d":0.001},{"t":72.2,"v":-0.02,"d":-0.001},{"t":72.4,"v":0.02,"d":0.002},{"t":72.6,"v":-0.01,"d":-0.001},{"t":72.8,"v":0.02,"d":0.001},
{"t":73,"v":-0.02,"d":-0.001},{"t":73.2,"v":0.02,"d":0.002},{"t":73.4,"v":-0.01,"d":-0.001},{"t":73.6,"v":0.01,"d":0.001},{"t":73.8,"v":-0.02,"d":-0.002},
{"t":74,"v":0.02,"d":0.001},{"t":74.2,"v":-0.01,"d":-0.001},{"t":74.4,"v":0.02,"d":0.001},{"t":74.6,"v":-0.02,"d":-0.002},{"t":74.8,"v":0.01,"d":0.001},
{"t":75,"v":-0.01,"d":-0.001},{"t":75.2,"v":0.02,"d":0.002},{"t":75.4,"v":-0.02,"d":-0.001},{"t":75.6,"v":0.01,"d":0},{"t":75.8,"v":-0.01,"d":0.001},
{"t":76,"v":0.02,"d":-0.002},{"t":76.2,"v":-0.02,"d":0.001},{"t":76.4,"v":0.01,"d":-0.001},{"t":76.6,"v":-0.02,"d":0.001},{"t":76.8,"v":0.02,"d":-0.002},
{"t":77,"v":-0.02,"d":0.001},{"t":77.2,"v":0.01,"d":-0.001},{"t":77.4,"v":-0.02,"d":0.001},{"t":77.6,"v":0.02,"d":-0.002},{"t":77.8,"v":-0.01,"d":0.001},
{"t":78,"v":0.01,"d":-0.001},{"t":78.2,"v":-0.02,"d":0.001},{"t":78.4,"v":0.02,"d":-0.002},{"t":78.6,"v":-0.01,"d":0.001},{"t":78.8,"v":0.02,"d":-0.001},
{"t":79,"v":-0.01,"d":0.001},{"t":79.2,"v":0.02,"d":-0.001},{"t":79.4,"v":-0.02,"d":0.001},{"t":79.6,"v":0.01,"d":-0.002},{"t":79.8,"v":-0.01,"d":0},
{"t":80,"v":0.01,"d":0},{"t":80.2,"v":-0.01,"d":0.001},{"t":80.4,"v":0.02,"d":-0.001},{"t":80.6,"v":-0.01,"d":0},{"t":80.8,"v":0.01,"d":0.001},
{"t":81,"v":-0.02,"d":-0.001},{"t":81.2,"v":0.02,"d":0},{"t":81.4,"v":-0.01,"d":-0.002},{"t":81.6,"v":0.02,"d":0.001},{"t":81.8,"v":-0.01,"d":-0.001},
{"t":82,"v":0.02,"d":0.001},{"t":82.2,"v":-0.01,"d":-0.002},{"t":82.4,"v":0.01,"d":0},{"t":82.6,"v":-0.02,"d":-0.001},{"t":82.8,"v":0.02,"d":0.001},
{"t":83,"v":-0.01,"d":-0.002},{"t":83.2,"v":0.02,"d":0.001},{"t":83.4,"v":-0.01,"d":-0.002},{"t":83.6,"v":0.02,"d":0},{"t":83.8,"v":-0.02,"d":-0.003},
{"t":84,"v":0.01,"d":-0.001},{"t":84.2,"v":-0.02,"d":-0.002},{"t":84.4,"v":0.01,"d":-0.003},{"t":84.6,"v":-0.03,"d":-0.002}
],
"pk": [
{"p":"a","t":23.2,"y":11.267,"lab":"11.267"},
{"p":"v","t":20.2,"y":0.29745,"lab":"0.29745"},
{"p":"d","t":20.4,"y":0.026354,"lab":"0.026354"}
]
},
"spacing": 98.5,
"bounds": "flush",
"vconcat": [
{
  "width": 956, "height": 216,
  "title": {"text": "Escenario sísmico (17,8): Componente Radial", "font": "Liberation Sans", "fontSize": 38, "fontWeight": "normal", "color": "#000", "anchor": "middle", "frame": "group", "baseline": "alphabetic", "offset": -48},
  "layer": [
    {"mark": {"type": "rule", "color": "#777", "strokeWidth": 1}, "encoding": {"y": {"datum": 0, "type": "quantitative"}}},
    {"data": {"name": "acc"}, "mark": {"type": "line", "color": "#0000ff", "strokeWidth": 1},
     "encoding": {
       "x": {"field": "t", "type": "quantitative", "scale": {"domain": [0, 84.6], "nice": false, "zero": false}, "axis": {"title": "Tiempo [s]", "values": [0,10,20,30,40,50,60,70,80], "grid": true}},
       "y": {"field": "a", "type": "quantitative", "scale": {"domain": [-20, 20], "nice": false}, "axis": {"title": "Aceleración [cm/s/s]", "values": [-20,-10,0,10,20], "grid": true}}}},
    {"data": {"name": "pk"}, "transform": [{"filter": "datum.p == 'a'"}], "mark": {"type": "point", "shape": "M-1,0L1,0M0,-1L0,1M-0.7,-0.7L0.7,0.7M-0.7,0.7L0.7,-0.7", "color": "#ff0000", "filled": false, "size": 100, "strokeWidth": 1, "opacity": 1},
     "encoding": {"x": {"field": "t", "type": "quantitative"}, "y": {"field": "y", "type": "quantitative"}}},
    {"data": {"name": "pk"}, "transform": [{"filter": "datum.p == 'a'"}], "mark": {"type": "text", "align": "left", "baseline": "alphabetic", "dx": 8, "dy": -7, "fontSize": 25, "font": "Liberation Sans", "color": "#000"},
     "encoding": {"x": {"field": "t", "type": "quantitative"}, "y": {"field": "y", "type": "quantitative"}, "text": {"field": "lab"}}}
  ]
},
{
  "width": 956, "height": 216,
  "layer": [
    {"mark": {"type": "rule", "color": "#777", "strokeWidth": 1}, "encoding": {"y": {"datum": 0, "type": "quantitative"}}},
    {"data": {"name": "s"}, "mark": {"type": "line", "color": "#0000ff", "strokeWidth": 1},
     "encoding": {
       "x": {"field": "t", "type": "quantitative", "scale": {"domain": [0, 84.6], "nice": false, "zero": false}, "axis": {"title": "Tiempo [s]", "values": [0,10,20,30,40,50,60,70,80], "grid": true}},
       "y": {"field": "v", "type": "quantitative", "scale": {"domain": [-0.4, 0.4], "nice": false}, "axis": {"title": "Velocidad [cm/s]", "values": [-0.4,-0.2,0,0.2,0.4], "grid": true}}}},
    {"data": {"name": "pk"}, "transform": [{"filter": "datum.p == 'v'"}], "mark": {"type": "point", "shape": "M-1,0L1,0M0,-1L0,1M-0.7,-0.7L0.7,0.7M-0.7,0.7L0.7,-0.7", "color": "#ff0000", "filled": false, "size": 100, "strokeWidth": 1, "opacity": 1},
     "encoding": {"x": {"field": "t", "type": "quantitative"}, "y": {"field": "y", "type": "quantitative"}}},
    {"data": {"name": "pk"}, "transform": [{"filter": "datum.p == 'v'"}], "mark": {"type": "text", "align": "left", "baseline": "alphabetic", "dx": 8, "dy": -6, "fontSize": 25, "font": "Liberation Sans", "color": "#000"},
     "encoding": {"x": {"field": "t", "type": "quantitative"}, "y": {"field": "y", "type": "quantitative"}, "text": {"field": "lab"}}}
  ]
},
{
  "width": 956, "height": 216,
  "layer": [
    {"mark": {"type": "rule", "color": "#777", "strokeWidth": 1}, "encoding": {"y": {"datum": 0, "type": "quantitative"}}},
    {"data": {"name": "s"}, "mark": {"type": "line", "color": "#0000ff", "strokeWidth": 1},
     "encoding": {
       "x": {"field": "t", "type": "quantitative", "scale": {"domain": [0, 84.6], "nice": false, "zero": false}, "axis": {"title": "Tiempo [s]", "values": [0,10,20,30,40,50,60,70,80], "grid": true}},
       "y": {"field": "d", "type": "quantitative", "scale": {"domain": [-0.04, 0.04], "nice": false}, "axis": {"title": "Desplazamiento [cm]", "values": [-0.04,-0.02,0,0.02,0.04], "grid": true}}}},
    {"data": {"name": "pk"}, "transform": [{"filter": "datum.p == 'd'"}], "mark": {"type": "point", "shape": "M-1,0L1,0M0,-1L0,1M-0.7,-0.7L0.7,0.7M-0.7,0.7L0.7,-0.7", "color": "#ff0000", "filled": false, "size": 100, "strokeWidth": 1, "opacity": 1},
     "encoding": {"x": {"field": "t", "type": "quantitative"}, "y": {"field": "y", "type": "quantitative"}}},
    {"data": {"name": "pk"}, "transform": [{"filter": "datum.p == 'd'"}], "mark": {"type": "text", "align": "left", "baseline": "alphabetic", "dx": 8, "dy": -7, "fontSize": 25, "font": "Liberation Sans", "color": "#000"},
     "encoding": {"x": {"field": "t", "type": "quantitative"}, "y": {"field": "y", "type": "quantitative"}, "text": {"field": "lab"}}}
  ]
}
]
}
